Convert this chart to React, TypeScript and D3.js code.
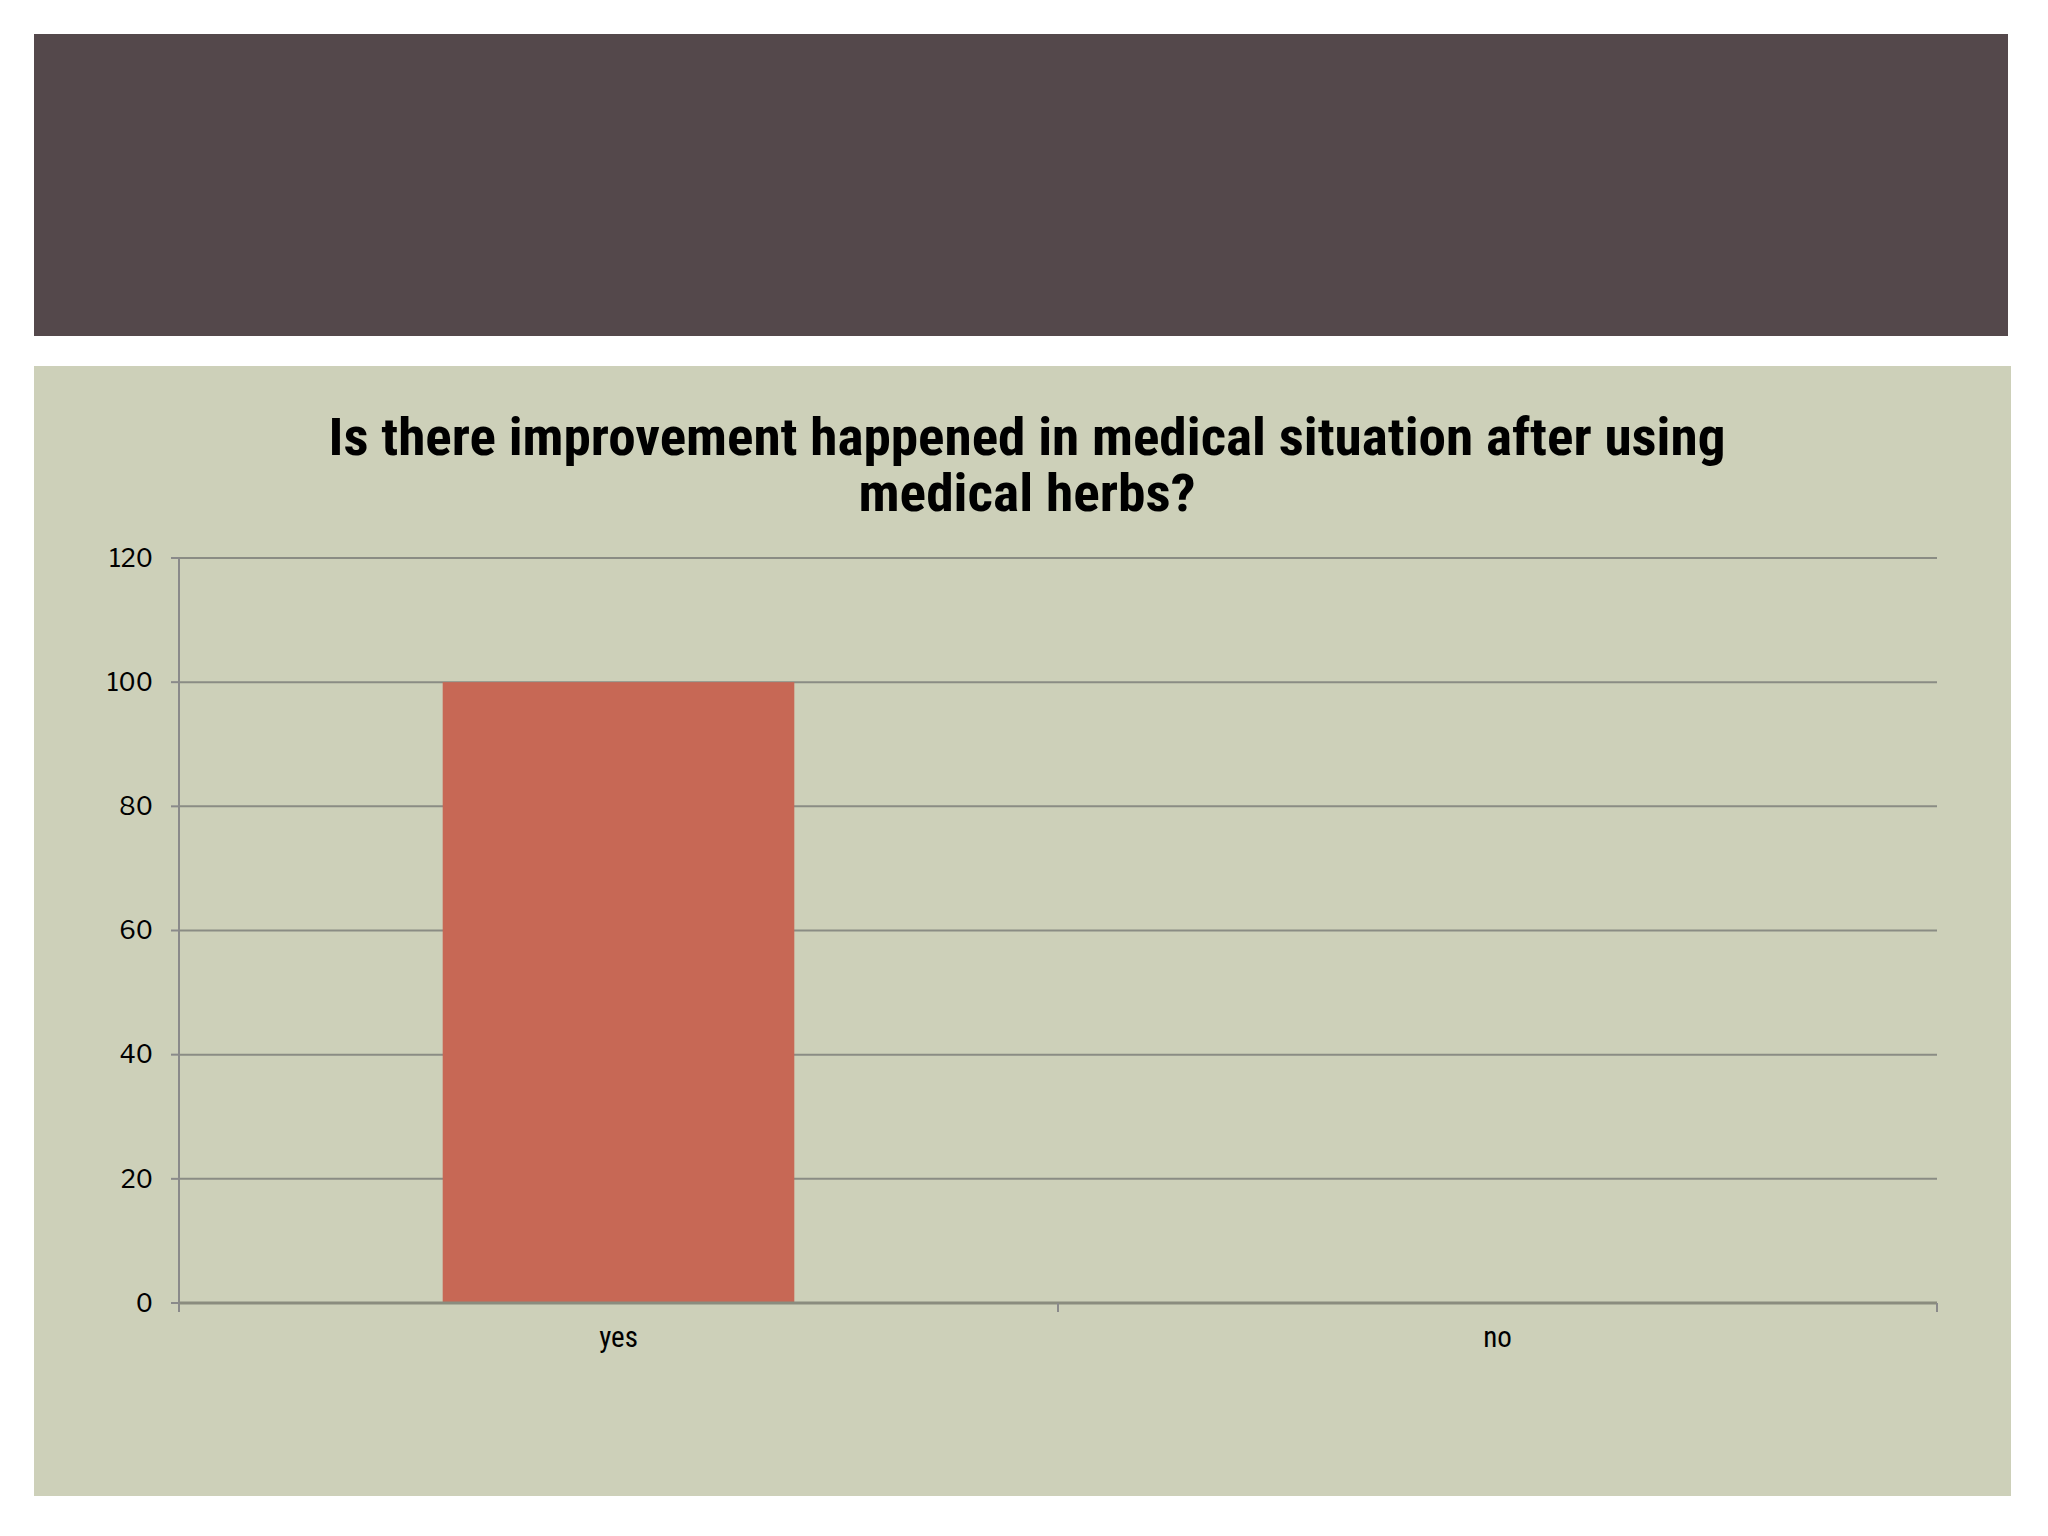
import React from 'react';
import * as d3 from 'd3';

const categories = ['yes', 'no'];
const values = [100, 0];
const yTicks = [0, 20, 40, 60, 80, 100, 120];
const titleLines = ['Is there improvement happened in medical situation after using', 'medical herbs?'];

const W = 2048;
const H = 1536;
const plot = { left: 179, right: 1937, top: 558, bottom: 1303 };

const App: React.FC = () => {
    const x = d3.scaleBand<string>()
        .domain(categories)
        .range([plot.left, plot.right])
        .paddingInner(0.6)
        .paddingOuter(0.3);

    const y = d3.scaleLinear()
        .domain([0, 120])
        .range([plot.bottom, plot.top]);

    // category boundaries for the tick marks on the x axis
    const step = (plot.right - plot.left) / categories.length;
    const xTickPos = d3.range(categories.length + 1).map(i => plot.left + i * step);

    const condensed = '"Liberation Sans Narrow", "Arial Narrow", "Roboto Condensed", "Liberation Sans", sans-serif';
    const regular = '"Libre Franklin", "Liberation Sans", Arial, sans-serif';

    return (
        <svg width={W} height={H} style={{ position: 'absolute', left: 0, top: 0 }}>
            <rect x={0} y={0} width={W} height={H} fill="#ffffff" />
            {/* header bar */}
            <rect x={34} y={34} width={1974} height={302} fill="#54484b" />
            {/* chart panel */}
            <rect x={34} y={366} width={1977} height={1130} fill="#cdd0b9" />

            {/* title */}
            {titleLines.map((t, i) => (
                <text
                    key={i}
                    x={1027}
                    y={455 + i * 56}
                    textAnchor="middle"
                    fontFamily={condensed}
                    fontWeight="bold"
                    fontSize={51}
                    fill="#000"
                    textLength={i === 0 ? 1397 : 337}
                    lengthAdjust="spacingAndGlyphs"
                >
                    {t}
                </text>
            ))}

            {/* gridlines */}
            {yTicks.filter(t => t > 0).map(t => (
                <line key={t} x1={plot.left} x2={plot.right} y1={y(t)} y2={y(t)} stroke="#8a8c84" strokeWidth={2} />
            ))}

            {/* bars */}
            {categories.map((c, i) => (
                <rect
                    key={c}
                    x={x(c)}
                    y={y(values[i])}
                    width={x.bandwidth()}
                    height={y(0) - y(values[i])}
                    fill="#c76855"
                />
            ))}

            {/* y axis */}
            <line x1={plot.left} x2={plot.left} y1={plot.top} y2={plot.bottom + 8} stroke="#8a8a8a" strokeWidth={2} />
            {yTicks.map(t => (
                <g key={t}>
                    <line x1={plot.left - 8} x2={plot.left} y1={y(t)} y2={y(t)} stroke="#8a8a8a" strokeWidth={2} />
                    <text
                        x={153}
                        y={y(t)}
                        dy="0.35em"
                        textAnchor="end"
                        fontFamily={regular}
                        fontSize={25}
                        fill="#000"
                    >
                        {t}
                    </text>
                </g>
            ))}

            {/* x axis */}
            <line x1={plot.left} x2={plot.right} y1={plot.bottom} y2={plot.bottom} stroke="#8a8c7e" strokeWidth={3} />
            {xTickPos.map((p, i) => (
                <line key={i} x1={p} x2={p} y1={plot.bottom} y2={plot.bottom + 9} stroke="#8a8a8a" strokeWidth={2} />
            ))}
            {categories.map(c => (
                <text
                    key={c}
                    x={(x(c) ?? 0) + x.bandwidth() / 2}
                    y={1347}
                    textAnchor="middle"
                    fontFamily={condensed}
                    fontSize={29}
                    fill="#000"
                >
                    {c}
                </text>
            ))}
        </svg>
    );
};

export default App;
